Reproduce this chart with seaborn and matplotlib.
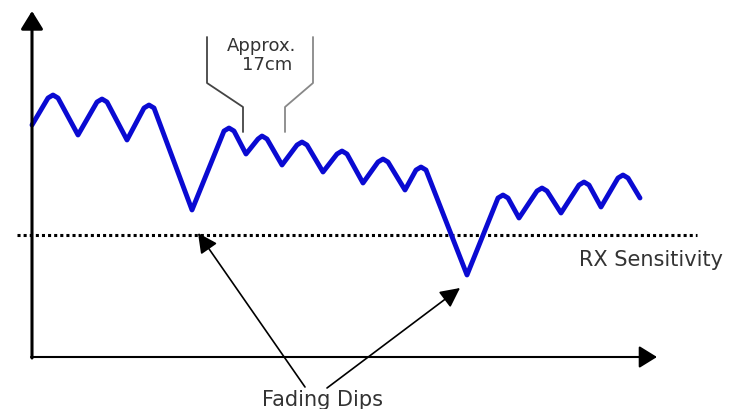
import matplotlib
matplotlib.use("Agg")
import matplotlib.pyplot as plt
import seaborn as sns
import pandas as pd

# Received signal level along the distance axis (arched peaks, sharp fading troughs)
distance = [0,
            16, 21, 26, 46,
            65, 70, 75, 95,
            112, 117, 122, 160,
            192, 197, 202, 214,
            226, 230, 235, 250,
            265, 270, 275, 291,
            305, 310, 315, 331,
            346, 351, 356, 373,
            384, 389, 394, 435,
            466, 471, 476, 487,
            505, 510, 515, 529,
            547, 552, 557, 569,
            586, 591, 596, 608]
signal = [232,
          259, 262, 259, 222,
          255, 258, 255, 217,
          249, 252, 249, 147,
          226, 229, 226, 203,
          218, 221, 218, 192,
          212, 215, 212, 185,
          203, 206, 203, 174,
          195, 198, 195, 167,
          187, 190, 187, 82,
          159, 162, 159, 139,
          166, 169, 166, 144,
          172, 175, 172, 150,
          179, 182, 179, 159]

# Receiver sensitivity threshold
rx_sensitivity = 122
threshold_span = [-15, 665]

# Annotation texts
threshold_label = "RX Sensitivity"
dips_label = "Fading Dips"
spacing_label = ["Approx.", "17cm"]

sns.set_style("white")
plt.rcParams["font.family"] = ["DejaVu Sans"]

fig = plt.figure(figsize=(7.33, 4.09), dpi=100)
ax = fig.add_axes([0, 0, 1, 1])
ax.set_xlim(-32, 701)
ax.set_ylim(-52, 357)
ax.axis("off")

df = pd.DataFrame({"distance": distance, "signal": signal})
sns.lineplot(data=df, x="distance", y="signal", sort=False, ax=ax,
             color="#0a0ad2", lw=3.5, solid_joinstyle="round",
             solid_capstyle="round", zorder=3)

# Threshold line
ax.plot(threshold_span, [rx_sensitivity, rx_sensitivity], color="black",
        lw=2.2, linestyle=(0, (1, 1)), dash_capstyle="butt", zorder=2)
ax.text(619, 97, threshold_label, ha="center", va="center",
        fontsize=15, color="#333333")

# Axes with arrow heads
axis_arrow = dict(arrowstyle="-|>,head_length=0.55,head_width=0.34",
                  color="black", mutation_scale=20, shrinkA=0, shrinkB=0)
ax.annotate("", xy=(0, 346), xytext=(0, -1),
            arrowprops=dict(lw=2.2, **axis_arrow))
ax.annotate("", xy=(625, 0), xytext=(-1, 0),
            arrowprops=dict(lw=1.5, **axis_arrow))

# Fading dip pointers
dip_arrow = dict(arrowstyle="-|>,head_length=0.6,head_width=0.3",
                 color="black", lw=1.2, mutation_scale=20,
                 shrinkA=0, shrinkB=0)
ax.annotate("", xy=(166, 124), xytext=(273, -30), arrowprops=dip_arrow)
ax.annotate("", xy=(428, 69), xytext=(295, -31), arrowprops=dip_arrow)
ax.text(290, -43, dips_label, ha="center", va="center",
        fontsize=15, color="#333333")

# Spacing bracket between adjacent peaks
ax.plot([175, 175, 211, 211], [320, 274, 250, 225], color="#444444", lw=1.3)
ax.plot([281, 281, 253, 253], [320, 274, 250, 225], color="#888888", lw=1.3)
ax.text(230, 311, spacing_label[0], ha="center", va="center",
        fontsize=13, color="#333333")
ax.text(235, 292, spacing_label[1], ha="center", va="center",
        fontsize=13, color="#333333")

fig.savefig("out.png", dpi=100, facecolor="white")
